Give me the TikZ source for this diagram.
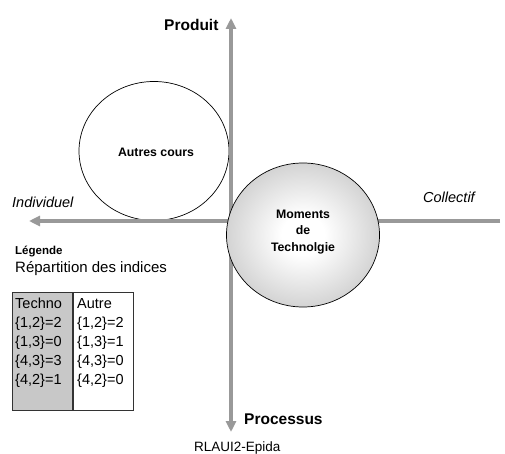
\documentclass[tikz,border=0pt]{standalone}
\usepackage{fontspec}
\setmainfont{Liberation Sans}
\usetikzlibrary{arrows.meta,shapes.geometric}
\definecolor{axisgray}{RGB}{153,153,153}
\definecolor{legfill}{RGB}{200,200,200}
\tikzset{axtip/.tip={Triangle[width=10pt,length=11pt]}}
\pgfdeclareradialshading{momshade}{\pgfpoint{0bp}{0bp}}{color(0bp)=(white); color(7bp)=(white); color(25bp)=(black!17); color(50bp)=(black!17)}
\begin{document}
\begin{tikzpicture}[x=1pt,y=-1pt,
  axisline/.style={draw=axisgray, line width=3.5pt},
  bubble/.style={ellipse, draw=black, line width=0.7pt, inner sep=0pt},
  bublbl/.style={font=\bfseries\fontsize{12.3}{16.5}\selectfont, align=center, inner sep=0pt},
  axlbl/.style={font=\bfseries\fontsize{15.5}{18}\selectfont, anchor=west, inner sep=0pt},
  dirlbl/.style={font=\itshape\fontsize{14.5}{17}\selectfont, anchor=west, inner sep=0pt},
  legbox/.style={draw=black!80, line width=0.8pt, minimum width=60pt, minimum height=118pt, anchor=north west, inner sep=0pt},
  legtxt/.style={font=\fontsize{14.5}{17}\selectfont, anchor=base west, inner sep=0pt}]
\useasboundingbox (0,0) rectangle (505,454);

% Autres cours (under the axes)
\node[bubble, minimum width=150pt, minimum height=139pt] (autres) at (154,151) {};
\node[bublbl] (autreslbl) at (156,152) {Autres cours};

% axes
\coordinate (ptop) at (231,18);
\coordinate (pbot) at (231,432);
\coordinate (hleft) at (29,221);
\coordinate (hright) at (500,221);
\draw[axisline, axtip-axtip] (pbot) -- (ptop);
\draw[axisline, -axtip] (hright) -- (hleft);

% Moments de Technologie (over the axes)
\node[bubble, minimum width=153pt, minimum height=144pt, shading=momshade] (moments) at (303,235) {};
\node[bublbl] (momentslbl) at (303,232) {Moments\\de\\Technolgie};

% axis labels
\node[axlbl] (produit) at (164,25) {Produit};
\node[axlbl] (processus) at (244,419) {Processus};
\node[dirlbl] (individuel) at (12,202) {Individuel};
\node[dirlbl] (collectif) at (423,197) {Collectif};

% legend
\node[font=\bfseries\fontsize{11.5}{13}\selectfont, anchor=west, inner sep=0pt] (legende) at (15,252) {Légende};
\node[font=\fontsize{15}{17}\selectfont, anchor=west, inner sep=0pt] (repart) at (15,269) {Répartition des indices};
\node[legbox, fill=legfill] (technobox) at (12,292) {};
\node[legbox, fill=white] (autrebox) at (73,292) {};
\foreach \t [count=\i] in {Techno,{\{1,2\}=2},{\{1,3\}=0},{\{4,3\}=3},{\{4,2\}=1}}
  \node[legtxt] (tech\i) at (15,289+19*\i) {\t};
\foreach \t [count=\i] in {Autre,{\{1,2\}=2},{\{1,3\}=1},{\{4,3\}=0},{\{4,2\}=0}}
  \node[legtxt] (autr\i) at (77,289+19*\i) {\t};

% source
\node[font=\fontsize{13.5}{16}\selectfont, anchor=west, inner sep=0pt] (source) at (194,448) {RLAUI2-Epida};
\end{tikzpicture}
\end{document}
